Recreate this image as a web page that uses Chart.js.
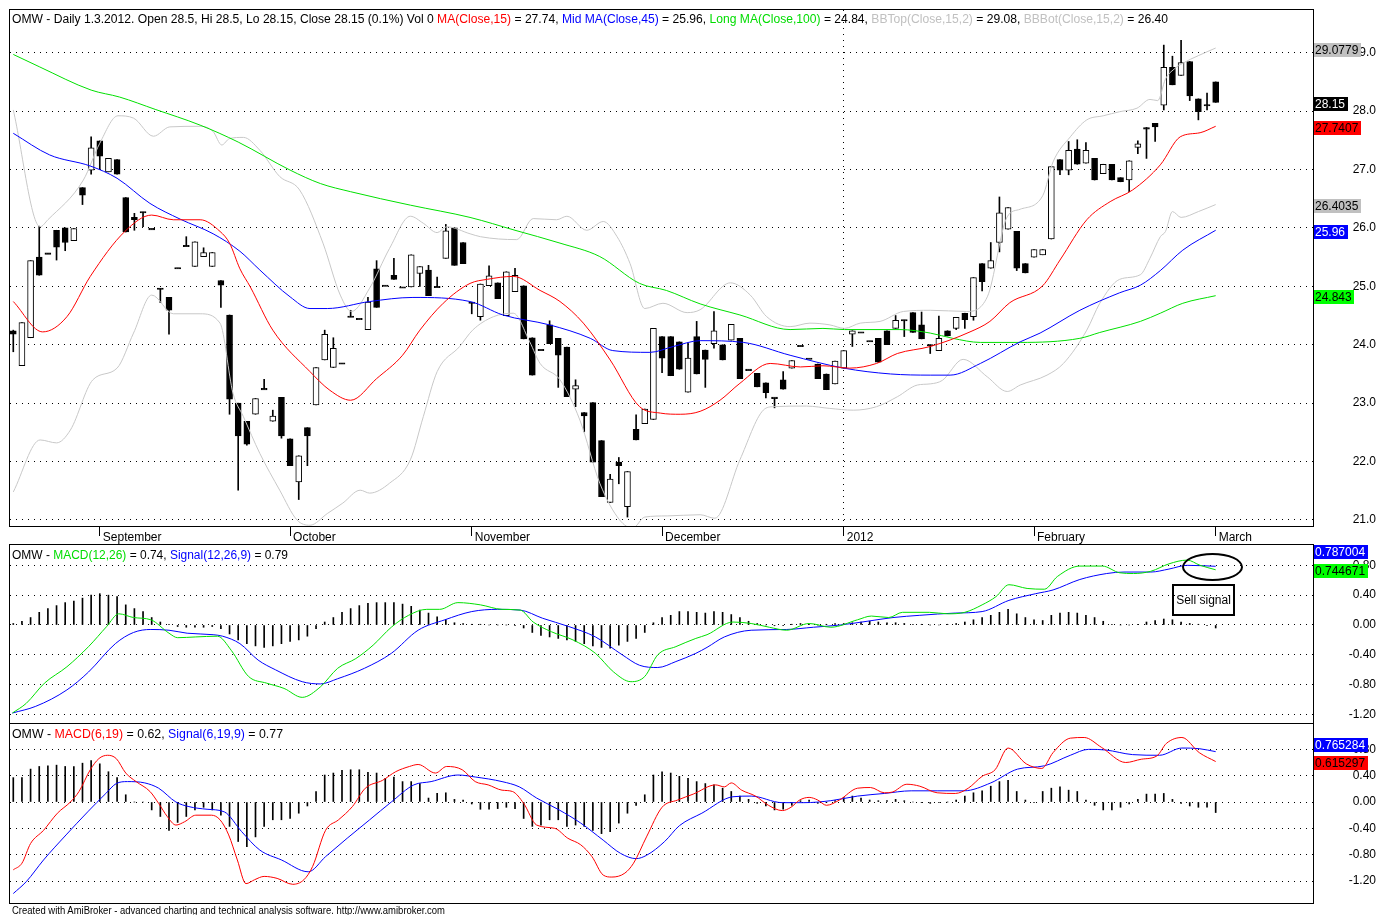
<!DOCTYPE html>
<html>
<head>
<meta charset="utf-8">
<script src="https://cdn.jsdelivr.net/npm/chart.js@4.4.0/dist/chart.umd.min.js"></script>
<style>
  html, body { margin: 0; padding: 0; background: #fff; }
  #wrap { position: relative; width: 1376px; height: 915px; overflow: hidden; background: #fff; }
  canvas { position: absolute; left: 0; }
  .txt { position: absolute; white-space: nowrap; font-family: "Liberation Sans", Arial, sans-serif;
         font-size: 12px; line-height: 14px; color: #000; transform-origin: 0 0; display: inline-block; }
  .foot { font-size: 10px; line-height: 11px; }
  .red { color: #ff0000; } .blue { color: #0000ff; } .green { color: #00dd00; } .gray { color: #c0c0c0; }
  #ellipse { position: absolute; left: 1182px; top: 553px; width: 57px; height: 24px; border: 2px solid #000; border-radius: 50%; }
  #sell { position: absolute; left: 1172px; top: 584px; width: 59px; height: 28px; border: 2px solid #000;
          font-family: "Liberation Sans", Arial, sans-serif; font-size: 12px; line-height: 28px; text-align: center; background: transparent; }
</style>
</head>
<body>
<div id="wrap">
  <canvas id="c1" width="1376" height="545" style="top:0"></canvas>
  <canvas id="c2" width="1376" height="180" style="top:544px"></canvas>
  <canvas id="c3" width="1376" height="182" style="top:723px"></canvas>

  <div class="txt fit" data-w="1156" style="left:12px; top:12px">OMW - Daily 1.3.2012. Open 28.5, Hi 28.5, Lo 28.15, Close 28.15 (0.1%) Vol 0 <span class="red">MA(Close,15)</span> = 27.74, <span class="blue">Mid MA(Close,45)</span> = 25.96, <span class="green">Long MA(Close,100)</span> = 24.84, <span class="gray">BBTop(Close,15,2)</span> = 29.08, <span class="gray">BBBot(Close,15,2)</span> = 26.40</div>
  <div class="txt fit" data-w="276" style="left:12px; top:548px">OMW - <span class="green">MACD(12,26)</span> = 0.74, <span class="blue">Signal(12,26,9)</span> = 0.79</div>
  <div class="txt fit" data-w="271" style="left:12px; top:727px">OMW - <span class="red">MACD(6,19)</span> = 0.62, <span class="blue">Signal(6,19,9)</span> = 0.77</div>
  <div class="txt foot fit" data-w="433" style="left:12px; top:905px">Created with AmiBroker - advanced charting and technical analysis software. http://www.amibroker.com</div>

  <div id="ellipse"></div>
  <div id="sell">Sell signal</div>
</div>

<script>
// daily bars, 18 Aug 2011 .. 1 Mar 2012 (index 0..139)
const open = [24.24,23.64,24.12,25.50,25.56,25.96,26.00,25.78,26.69,26.99, 27.49,26.96,27.17,26.52,26.18,26.27,25.98,24.96,24.81,25.31,
  25.69,25.34,25.51,25.34,25.10,24.51,23.00,22.69,22.81,23.24, 22.69,23.10,22.39,21.65,22.58,22.97,23.74,23.61,23.68,24.48,
  24.44,24.26,25.30,25.01,25.19,24.98,24.99,25.22,25.28,24.99, 25.48,26.00,25.75,24.72,24.48,25.01,25.06,24.50,24.91,25.01,
  24.12,23.91,24.34,24.11,23.96,23.24,22.84,23.01,22.36,21.30, 21.99,21.23,22.55,22.65,22.72,24.14,24.14,24.05,23.19,24.14,
  23.91,24.02,24.00,24.08,24.11,23.57,23.51,23.35,23.09,23.40, 23.60,23.98,23.76,23.67,23.50,23.33,23.60,24.18,24.21,24.06,
  24.11,24.24,24.28,24.42,24.55,24.34,24.00,23.90,24.24,24.28, 24.54,24.48,25.39,25.31,25.75,25.98,25.94,25.39,25.50,25.54,
  25.81,27.17,26.99,27.35,27.11,27.19,26.93,27.09,26.86,26.82, 27.38,27.72,27.79,28.10,28.75,28.61,28.85,28.21,28.10,28.50];
const high = [24.25,24.38,25.44,26.03,25.56,25.96,26.00,25.99,26.69,27.56, 27.49,27.19,27.17,26.52,26.25,26.27,25.98,24.96,24.81,25.31,
  25.85,25.76,25.66,25.58,25.10,24.51,23.00,22.69,23.08,23.41, 22.88,23.10,22.39,22.10,22.58,23.61,24.25,24.12,23.68,24.59,
  24.44,24.81,25.44,25.01,25.48,24.98,25.54,25.34,25.36,25.16, 26.06,26.00,25.75,24.72,25.04,25.35,25.06,25.25,25.31,25.01,
  24.12,23.91,24.41,24.11,23.96,23.40,22.84,23.01,22.36,21.78, 22.07,21.83,22.80,22.90,24.28,24.14,24.14,24.05,24.03,24.40,
  23.91,24.57,24.00,24.35,24.11,23.57,23.51,23.35,23.09,23.54, 23.73,23.98,23.76,23.67,23.50,23.72,23.90,24.24,24.21,24.06,
  24.11,24.24,24.50,24.42,24.55,24.56,24.00,24.49,24.24,24.47, 24.54,25.15,25.39,25.75,26.53,26.35,25.94,25.39,25.63,25.63,
  27.05,27.17,27.48,27.51,27.46,27.19,27.09,27.09,26.86,27.15, 27.49,27.72,27.79,29.13,28.94,29.21,28.85,28.21,28.31,28.50];
const low = [23.88,23.64,24.12,25.19,25.56,25.45,25.61,25.78,26.40,26.92, 27.00,26.96,26.92,25.93,25.96,26.02,25.98,24.72,24.18,25.31,
  25.69,25.34,25.51,25.34,24.64,22.81,21.51,22.28,22.81,23.24, 22.69,22.40,21.93,21.35,21.93,22.97,23.74,23.61,23.68,24.48,
  24.44,24.26,24.64,25.01,25.12,24.98,24.99,25.00,24.84,24.99, 25.48,25.36,25.39,24.53,24.42,25.01,24.79,24.50,24.91,24.10,
  23.48,23.91,24.02,23.27,23.11,22.94,22.51,21.99,21.40,21.30, 21.62,21.05,22.37,22.65,22.72,23.52,23.47,23.58,23.19,23.50,
  23.27,23.94,23.74,24.08,23.42,23.57,23.28,23.09,22.92,23.24, 23.60,23.98,23.76,23.42,23.23,23.33,23.60,23.97,24.21,24.06,
  23.70,24.00,24.28,24.14,24.21,24.10,23.85,23.90,24.15,24.26, 24.28,24.42,24.92,25.31,25.59,25.98,25.27,25.23,25.50,25.54,
  25.81,26.91,26.91,27.09,27.11,26.82,26.93,26.82,26.79,26.62, 27.27,27.19,27.48,28.02,28.45,28.61,28.18,27.85,28.02,28.15];
const close = [24.18,24.38,25.44,25.19,25.56,25.67,25.75,25.99,26.56,27.37, 27.23,27.19,26.92,25.93,26.14,26.27,25.98,24.96,24.59,25.31,
  25.69,25.76,25.58,25.58,25.02,23.07,22.44,22.30,23.08,23.24, 22.78,22.44,21.93,22.10,22.44,23.61,24.18,23.94,23.68,24.48,
  24.44,24.73,24.64,25.01,25.12,24.98,25.54,25.34,24.84,24.99, 25.95,25.36,25.39,24.72,25.04,25.18,24.79,25.25,25.19,24.10,
  23.48,23.91,24.02,23.82,23.11,23.30,22.78,21.99,21.40,21.70, 21.93,21.83,22.37,22.90,24.28,23.77,23.47,23.58,23.77,23.50,
  23.75,24.24,23.74,24.35,23.42,23.57,23.28,23.18,23.09,23.24, 23.73,23.98,23.76,23.42,23.23,23.72,23.90,24.24,24.21,24.06,
  23.70,24.00,24.42,24.42,24.21,24.10,23.98,24.11,24.15,24.47, 24.43,25.15,25.08,25.44,26.26,26.35,25.31,25.23,25.63,25.63,
  27.05,26.99,27.33,27.09,27.33,26.82,27.09,26.82,26.79,27.15, 27.44,27.69,27.73,28.75,28.45,28.83,28.26,27.99,28.10,28.15];

const monthIdx = [10, 32, 53, 75, 96, 118, 139];
const monthLabels = ['September', 'October', 'November', 'December', '2012', 'February', 'March'];
const priceTicks = [21, 22, 23, 24, 25, 26, 27, 28, 29];
const macdTicks = [-1.2, -0.8, -0.4, 0, 0.4, 0.8];

// indicator lines, [bar index, value]
const ma15 = [[0,24.74],[3.4,24.22],[6.2,24.48],[8.9,25.17],[12.9,25.94],[16,26.22],[18.5,26.14],[21.6,26.14],[23.9,25.94],[25,25.74],
  [26.2,25.3],[27.4,24.99],[30,24.25],[34.3,23.54],[36.6,23.22],[39,23.05],[42,23.42],[45,23.82],[47,24.25],[49.7,24.71],[52.8,25.05],
  [54.8,25.12],[57.8,25.17],[60.9,24.93],[63.2,24.74],[65.9,24.37],[69,23.74],[72.4,22.94],[74.8,22.83],[77.1,22.81],[79.4,22.86],
  [81.7,23.05],[84,23.34],[87.5,23.68],[91,23.62],[93.6,23.64],[96.7,23.6],[99.8,23.68],[102.2,23.85],[106,23.97],[110.6,24.22],
  [112.9,24.4],[115.2,24.72],[119,25.01],[121,25.45],[124.1,26.14],[126.8,26.45],[129.4,26.65],[132.6,27.08],[134.9,27.56],[137.2,27.63],[139,27.74]];
const ma45 = [[0,27.62],[4.2,27.25],[8.9,27.06],[12,26.85],[15.8,26.42],[19.3,26.15],[23.1,25.9],[26.2,25.6],[28.5,25.28],[32,24.82],
  [34.3,24.62],[36.3,24.62],[41.2,24.74],[46.2,24.81],[52.8,24.74],[56.6,24.51],[62,24.34],[66.7,24.11],[69.3,23.9],[73.6,23.87],
  [76.3,23.97],[79.4,24.07],[84.4,24.04],[89.8,23.82],[96,23.6],[101.4,23.5],[106,23.48],[108.3,23.48],[111.8,23.68],[116.4,24.05],
  [118.7,24.2],[123.3,24.59],[127.9,24.89],[130.3,25.02],[132.6,25.27],[135.2,25.62],[139,25.96]];
const ma100 = [[0,28.97],[3,28.76],[9,28.36],[12.3,28.24],[16.4,28.03],[21.6,27.76],[26,27.47],[32,26.99],[35.5,26.76],[39,26.62],
  [45.9,26.39],[52.8,26.18],[58,25.96],[63.2,25.74],[67.8,25.51],[72.4,25.05],[75.5,24.93],[79.4,24.7],[84,24.51],[89.8,24.26],
  [93.6,24.28],[96.1,24.26],[102.5,24.26],[106,24.2],[108.6,24.11],[111.8,24.04],[116.4,24.04],[123.3,24.11],[125.6,24.21],
  [130.3,24.4],[132.6,24.54],[135.2,24.71],[139,24.84]];
const bbTop = [[0,28.02],[3.1,26.02],[4,26.14],[8.1,26.82],[10,27.45],[12.1,27.92],[13.9,27.88],[16.2,27.57],[18.1,27.73],[21.6,27.74],
  [23.1,27.65],[24.1,27.42],[25,27.53],[26.6,27.55],[28.5,27.33],[30.8,26.88],[33.1,26.65],[35.8,25.74],[37.8,24.85],[39.1,24.57],
  [41.2,24.97],[43.5,25.65],[45.9,26.2],[47.4,26.08],[49,25.92],[50.1,26.02],[52.8,25.9],[54,25.85],[58.2,25.8],[60.1,26.16],
  [62.8,26.14],[64,26.2],[66.3,25.96],[68.2,26.11],[69.8,25.85],[71.3,25.39],[73,24.62],[75.1,24.71],[77.9,24.55],[79.4,24.6],
  [82.9,25.06],[85.2,24.85],[87.1,24.48],[89.8,24.31],[92.1,24.37],[94.4,24.34],[96.1,24.28],[97.9,24.37],[100.2,24.4],[102.9,24.57],
  [106,24.59],[110.2,24.57],[112.6,24.82],[114.9,26.19],[116.4,26.32],[119,26.55],[120.2,27.13],[122.2,27.56],[124.1,27.85],[126,27.92],
  [127.9,27.99],[129.9,28.05],[131.4,28.2],[132.3,28.18],[133.2,28.55],[134.2,28.72],[135.2,28.82],[137,28.95],[139,29.08]];
const bbBot = [[0,21.48],[3.1,22.37],[5,22.32],[6.6,22.54],[9.2,23.4],[12,23.6],[13.9,24.2],[16,24.85],[18.5,24.53],[21.6,24.53],
  [23.9,24.37],[25.4,23.17],[26.6,22.77],[28.5,22.14],[30.8,21.51],[32.8,21.0],[34.3,20.91],[36.3,21.11],[38.1,21.29],[40.1,21.51],
  [41.2,21.46],[43.5,21.63],[45.9,22.03],[47.4,22.77],[49,23.54],[51.6,23.97],[53.1,24.25],[55.5,24.48],[57.8,24.54],[59.7,24.05],
  [60.9,23.68],[63.2,23.4],[65.5,22.71],[67.8,21.63],[70.1,21.0],[71.6,20.86],[73,21.05],[75.6,21.07],[79.4,21.09],[81.1,21.03],
  [84,22.03],[86.7,22.88],[87.9,22.94],[91.7,22.95],[94.4,22.91],[97.1,22.88],[99.8,22.94],[102.2,23.11],[104.5,23.31],[106,23.33],
  [107.4,23.39],[109.8,23.75],[112.6,23.45],[114.9,23.2],[116.4,23.31],[119.5,23.48],[121.4,23.68],[124.1,24.25],[125.6,24.71],
  [127.9,25.12],[130.3,25.2],[131.4,25.48],[132.6,25.85],[133.2,25.94],[134,26.28],[135,26.18],[137,26.28],[139,26.4]];

// MACD(12,26) and Signal(12,26,9)
const macdA = [[-0.1,-1.18],[1.5,-1.05],[3.6,-0.78],[6.2,-0.56],[8.7,-0.29],[10.8,-0.02],[12.2,0.15],[13.9,0.10],[15.9,0.07],[18,-0.11],
  [19,-0.17],[21.1,-0.16],[23.6,-0.15],[25.2,-0.34],[27.2,-0.69],[29.3,-0.78],[31.3,-0.85],[33.4,-0.97],[35.5,-0.83],[37.5,-0.58],
  [39.6,-0.45],[41.6,-0.27],[43.7,-0.03],[45.7,0.13],[47.8,0.21],[49.3,0.21],[51.4,0.30],[54,0.27],[56.5,0.21],[58.6,0.20],[60.1,0.04],
  [62.2,-0.09],[64.7,-0.20],[67.3,-0.38],[69.4,-0.63],[71.4,-0.76],[73,-0.69],[74.5,-0.40],[76.6,-0.29],[78.9,-0.18],[80.2,-0.13],
  [83.2,0.04],[85.3,0.02],[87.4,-0.03],[89.4,-0.07],[92,0.02],[94.5,-0.03],[97.6,0.07],[99.2,0.12],[101.2,0.10],[102.8,0.17],
  [105.9,0.17],[108,0.15],[110,0.17],[112,0.27],[113.6,0.38],[115.1,0.54],[117.2,0.49],[119.2,0.48],[120.7,0.65],[123.3,0.79],
  [125.9,0.79],[127.9,0.70],[129.5,0.69],[131.5,0.72],[133.6,0.82],[135.7,0.87],[137.2,0.80],[139,0.74]];
const signalA = [[-0.1,-1.18],[2.6,-1.09],[6.2,-0.87],[8.7,-0.63],[11.8,-0.25],[13.9,-0.10],[15.9,-0.06],[18,-0.07],[20.1,-0.11],
  [23.1,-0.13],[24.2,-0.15],[26.2,-0.25],[28.3,-0.47],[30.3,-0.6],[33.4,-0.76],[35.5,-0.79],[37.5,-0.72],[40.6,-0.58],[43.7,-0.38],
  [46.8,-0.07],[49.9,0.07],[53,0.18],[56,0.21],[58.6,0.2],[61.2,0.09],[64.2,-0.02],[67.3,-0.16],[70.4,-0.4],[72.4,-0.54],[74.5,-0.57],
  [76.6,-0.49],[78.9,-0.38],[80.2,-0.3],[82.2,-0.16],[85.3,-0.07],[89.4,-0.06],[92.5,-0.03],[95.6,0.0],[98.7,0.05],[101.7,0.10],
  [104.8,0.13],[108.9,0.16],[112,0.18],[115.1,0.33],[118.2,0.42],[120.2,0.47],[123.3,0.61],[126.4,0.69],[128.4,0.71],[131.5,0.71],
  [133.6,0.75],[135.7,0.80],[139,0.787]];
const histA = [0.02,0.05,0.10,0.17,0.22,0.26,0.30,0.32,0.36,0.40, 0.42,0.40,0.38,0.27,0.22,0.18,0.10,0.04,0.01,-0.02,
  -0.03,-0.03,-0.03,-0.02,-0.05,-0.12,-0.20,-0.25,-0.28,-0.30, -0.28,-0.25,-0.22,-0.20,-0.15,-0.05,0.04,0.10,0.17,0.22,
  0.26,0.29,0.30,0.30,0.30,0.28,0.25,0.20,0.16,0.11, 0.07,0.03,0.02,0.01,0.01,0.00,0.00,0.00,-0.01,-0.04,
  -0.10,-0.14,-0.16,-0.18,-0.20,-0.22,-0.25,-0.28,-0.30,-0.31, -0.27,-0.22,-0.18,-0.10,0.03,0.10,0.13,0.18,0.18,0.17,
  0.16,0.18,0.17,0.14,0.10,0.05,0.02,0.00,-0.01,-0.01, 0.01,0.02,0.01,0.00,0.01,0.02,0.02,0.03,0.04,0.05,
  0.04,0.03,0.03,0.02,0.01,0.01,0.00,0.00,0.01,0.02, 0.04,0.07,0.10,0.13,0.17,0.21,0.15,0.10,0.07,0.06,
  0.13,0.16,0.17,0.16,0.13,0.10,0.05,0.01,0.00,0.00, 0.01,0.04,0.06,0.08,0.07,0.04,0.02,0.01,-0.01,-0.04];

// MACD(6,19) and Signal(6,19,9)
const macdB = [[0,-1.03],[1,-0.93],[2,-0.63],[3.5,-0.43],[5.1,-0.17],[6.6,0.0],[7.6,0.16],[8.9,0.49],[9.9,0.66],[10.9,0.71],
  [11.9,0.66],[13,0.44],[14.2,0.31],[15.8,0.16],[16.8,-0.02],[17.8,-0.22],[18.8,-0.35],[19.8,-0.30],[21.1,-0.2],[22.9,-0.2],
  [23.9,-0.27],[24.9,-0.5],[25.9,-0.88],[26.9,-1.24],[27.9,-1.18],[29,-1.13],[30.5,-1.16],[32.3,-1.25],[33.6,-1.18],[34.6,-0.98],
  [36.1,-0.43],[37.6,-0.27],[39.2,-0.07],[40.7,0.21],[42.7,0.33],[44.2,0.46],[45.8,0.54],[46.8,0.57],[48.8,0.44],[50.1,0.54],
  [51.9,0.49],[53.4,0.31],[54.9,0.26],[56.5,0.18],[57.7,0.16],[59,-0.02],[60.5,-0.35],[62.6,-0.4],[64.1,-0.55],[65.6,-0.65],
  [66.9,-0.83],[68.2,-1.11],[69.2,-1.14],[70.7,-1.08],[71.7,-0.93],[73.2,-0.53],[75,-0.08],[76.8,0.03],[78.6,0.12],[81.2,0.26],
  [82.2,0.23],[83,0.29],[84.2,0.18],[85.8,0.09],[87.3,-0.05],[88.9,-0.13],[89.9,-0.08],[90.9,0.03],[92,0.07],[93,0.03],[94,-0.05],
  [95.5,0.03],[97.6,0.21],[99.1,0.22],[100.7,0.14],[101.6,0.15],[103.3,0.27],[104.8,0.24],[106.8,0.14],[108.9,0.13],[110.4,0.21],
  [112,0.39],[113.5,0.49],[115,0.82],[117.1,0.58],[118.9,0.51],[120.2,0.75],[122.2,0.97],[123.8,0.98],[125.8,0.83],[128.6,0.60],
  [130.4,0.65],[132.2,0.70],[133.3,0.89],[135.1,0.98],[137.1,0.75],[139,0.615]];
const signalB = [[0,-1.39],[1.5,-1.21],[3.5,-0.88],[6.1,-0.5],[8.6,-0.15],[10.7,0.13],[11.9,0.28],[13.2,0.31],[15.2,0.29],[16.8,0.21],
  [18.8,0.0],[20.3,-0.07],[22.4,-0.11],[24.4,-0.15],[26.4,-0.45],[28.5,-0.73],[31,-0.88],[34.1,-1.06],[36.1,-0.83],[38.6,-0.55],
  [41.2,-0.27],[43.7,0.0],[46.3,0.26],[48.3,0.31],[51.4,0.41],[53.4,0.38],[56.5,0.31],[58.5,0.23],[60.5,0.06],[63.1,-0.12],
  [65.6,-0.32],[68.2,-0.58],[70.2,-0.78],[72,-0.86],[73.2,-0.81],[75.3,-0.6],[77,-0.36],[79.6,-0.17],[83.2,0.08],[85.3,0.09],
  [88.9,-0.01],[91.4,-0.01],[94.5,0.02],[97.6,0.09],[100.7,0.13],[103.8,0.17],[106.8,0.17],[109.9,0.17],[113,0.29],[116.1,0.5],
  [119.2,0.55],[122.2,0.71],[124.3,0.8],[126.3,0.79],[129.4,0.72],[132.5,0.71],[135.1,0.82],[137.1,0.81],[139,0.765]];
const histB = [0.37,0.37,0.50,0.54,0.55,0.56,0.54,0.54,0.59,0.63, 0.58,0.46,0.37,0.11,0.00,0.00,-0.12,-0.22,-0.43,-0.31,
  -0.22,-0.12,-0.08,-0.12,-0.20,-0.37,-0.60,-0.68,-0.53,-0.37, -0.27,-0.27,-0.25,-0.17,-0.06,0.16,0.41,0.44,0.48,0.49,
  0.49,0.45,0.44,0.36,0.38,0.31,0.31,0.28,0.06,0.13, 0.14,0.04,0.03,-0.03,-0.11,-0.11,-0.10,-0.08,-0.10,-0.25,
  -0.37,-0.35,-0.27,-0.27,-0.37,-0.35,-0.37,-0.43,-0.48,-0.45, -0.32,-0.17,-0.05,0.11,0.41,0.46,0.44,0.39,0.36,0.31,
  0.28,0.26,0.21,0.16,0.09,0.04,-0.02,-0.06,-0.12,-0.11, -0.05,0.02,0.03,-0.02,-0.01,0.02,0.07,0.09,0.06,0.03,
  0.02,0.02,0.04,0.02,0.00,-0.01,-0.02,-0.01,0.00,0.03, 0.09,0.14,0.17,0.24,0.31,0.33,0.16,0.03,-0.01,0.16,
  0.21,0.23,0.18,0.16,0.03,-0.05,-0.12,-0.12,-0.08,-0.03, 0.04,0.12,0.12,0.13,0.04,-0.02,-0.06,-0.08,-0.08,-0.16];

// last-value tags on the right axis
const priceTagValues = [29.0779, 28.15, 27.7407, 26.4035, 25.96, 24.843];
const macdATagValues = [0.787004, 0.744671];
const macdBTagValues = [0.765284, 0.615297];

Chart.defaults.font.family = '"Liberation Sans", Arial, sans-serif';
Chart.defaults.font.size = 12;
Chart.defaults.color = '#000';
Chart.defaults.animation = false;

const XMIN = -0.38, XMAX = 150.25;
const idx = open.map((_, i) => i);
const pts = a => a.map(p => ({ x: p[0], y: p[1] }));

const framePlugin = {
  id: 'frame',
  afterDraw(chart) {
    const { ctx, chartArea: a } = chart;
    ctx.save();
    ctx.strokeStyle = '#000';
    ctx.lineWidth = 1;
    ctx.strokeRect(a.left - 0.5, a.top - 0.5, a.right - a.left + 1, a.bottom - a.top + 1);
    ctx.restore();
  }
};

const tagPlugin = {
  id: 'tags',
  afterDraw(chart, args, opts) {
    const ctx = chart.ctx, y = chart.scales.y, a = chart.chartArea;
    ctx.save();
    ctx.font = '12px "Liberation Sans", Arial, sans-serif';
    ctx.textBaseline = 'middle';
    (opts.items || []).forEach(t => {
      const py = Math.round(y.getPixelForValue(t.value) + (t.dy || 0));
      const txt = String(t.value);
      const w = Math.ceil(ctx.measureText(txt).width) + 3;
      ctx.fillStyle = t.bg;
      ctx.fillRect(a.right + 1, py - 7, w, 14);
      ctx.fillStyle = t.fg;
      ctx.fillText(txt, a.right + 2, py + 0.5);
    });
    ctx.restore();
  }
};

const lineDs = (data, color, order) => ({
  type: 'line', data: pts(data), borderColor: color, borderWidth: 1, pointRadius: 0,
  cubicInterpolationMode: 'monotone', order: order
});

const yAxis = (min, max, ticks, digits, pad) => ({
  position: 'right', min: min, max: max,
  afterFit: ax => { ax.width = 63; ax.paddingTop = 0; ax.paddingBottom = 0; },
  afterBuildTicks: ax => { ax.ticks = ticks.map(v => ({ value: v })); },
  ticks: { callback: v => v.toFixed(digits), crossAlign: 'far', padding: pad, color: '#000' },
  grid: { color: '#000', lineWidth: 1, drawTicks: false },
  border: { display: false, dash: [1, 5] }
});

// ---------- price panel ----------
const bodyColors = idx.map(i => close[i] > open[i] ? '#fff' : '#000');
const bodies = idx.map(i => {
  let lo = Math.min(open[i], close[i]), hi = Math.max(open[i], close[i]);
  if (hi - lo < 0.025) { const m = (hi + lo) / 2; lo = m - 0.012; hi = m + 0.012; }
  return { x: i, y: [lo, hi] };
});
const wicks = idx.map(i => ({ x: i, y: [low[i], high[i]] }));

new Chart(document.getElementById('c1'), {
  type: 'bar',
  data: {
    datasets: [
      lineDs(ma15, '#ff0000', 1),
      lineDs(ma45, '#0000ff', 2),
      lineDs(ma100, '#00e000', 3),
      lineDs(bbTop, '#c8c8c8', 4),
      lineDs(bbBot, '#c8c8c8', 5),
      { type: 'bar', data: bodies, backgroundColor: bodyColors, borderColor: '#000', borderWidth: 1,
        borderSkipped: false, barThickness: 6, grouped: false, order: 10 },
      { type: 'bar', data: wicks, backgroundColor: '#000', borderWidth: 0, barThickness: 1, grouped: false, order: 11 }
    ]
  },
  options: {
    responsive: false,
    layout: { padding: { left: 10, top: 10, right: 0, bottom: 0 } },
    plugins: {
      legend: { display: false }, tooltip: { enabled: false },
      tags: { items: [
        { value: priceTagValues[0], bg: '#c0c0c0', fg: '#000', dy: 1.5 },
        { value: priceTagValues[1], bg: '#000', fg: '#fff', dy: 1.5 },
        { value: priceTagValues[2], bg: '#ff0000', fg: '#000', dy: 1.5 },
        { value: priceTagValues[3], bg: '#c0c0c0', fg: '#000', dy: 1.5 },
        { value: priceTagValues[4], bg: '#0000ff', fg: '#fff', dy: 1.5 },
        { value: priceTagValues[5], bg: '#00ff00', fg: '#000', dy: 1.5 }
      ] }
    },
    scales: {
      x: {
        type: 'linear', min: XMIN, max: XMAX, offset: false,
        afterFit: ax => { ax.height = 19; ax.paddingLeft = 0; ax.paddingRight = 0; },
        afterBuildTicks: ax => { ax.ticks = monthIdx.map(v => ({ value: v })); },
        ticks: { callback: (v, i) => monthLabels[i], align: 'start', labelOffset: 3, padding: -6,
                 autoSkip: false, maxRotation: 0, color: '#000' },
        grid: { offset: false, color: c => (c.tick && c.tick.value === 96) ? '#000' : 'rgba(0,0,0,0)',
                tickColor: '#000', tickLength: 10, lineWidth: 1 },
        border: { display: false, dash: [1, 5] }
      },
      y: yAxis(20.897, 29.731, priceTicks, 1, 32)
    }
  },
  plugins: [framePlugin, tagPlugin]
});

// ---------- MACD panels ----------
function macdChart(id, padBottom, min, max, fast, slow, fastColor, hist, tagItems) {
  return new Chart(document.getElementById(id), {
    type: 'bar',
    data: {
      datasets: [
        lineDs(fast, fastColor, 1),
        lineDs(slow, '#0000ff', 2),
        { type: 'bar', data: idx.map(i => ({ x: i, y: hist[i] })), backgroundColor: '#000', borderWidth: 0,
          barThickness: 1, grouped: false, order: 10 }
      ]
    },
    options: {
      responsive: false,
      layout: { padding: { left: 10, top: 1, right: 0, bottom: padBottom } },
      plugins: { legend: { display: false }, tooltip: { enabled: false }, tags: { items: tagItems } },
      scales: {
        x: { type: 'linear', display: false, min: XMIN, max: XMAX, offset: false, grid: { offset: false } },
        y: yAxis(min, max, macdTicks, 2, 28)
      }
    },
    plugins: [framePlugin, tagPlugin]
  });
}

macdChart('c2', 1, -1.3137, 1.0724, macdA, signalA, '#00e000', histA, [
  { value: macdATagValues[0], bg: '#0000ff', fg: '#fff', dy: -14 },
  { value: macdATagValues[1], bg: '#00ff00', fg: '#000', dy: 1.5 }
]);
macdChart('c3', 2, -1.534, 1.185, macdB, signalB, '#ff0000', histB, [
  { value: macdBTagValues[0], bg: '#0000ff', fg: '#fff', dy: -6.5 },
  { value: macdBTagValues[1], bg: '#ff0000', fg: '#000', dy: 1.5 }
]);

// squeeze the AmiBroker-style captions to their original widths
document.querySelectorAll('.fit').forEach(el => {
  const w = el.getBoundingClientRect().width;
  el.style.transform = 'scaleX(' + (Number(el.dataset.w) / w) + ')';
});
</script>
</body>
</html>
